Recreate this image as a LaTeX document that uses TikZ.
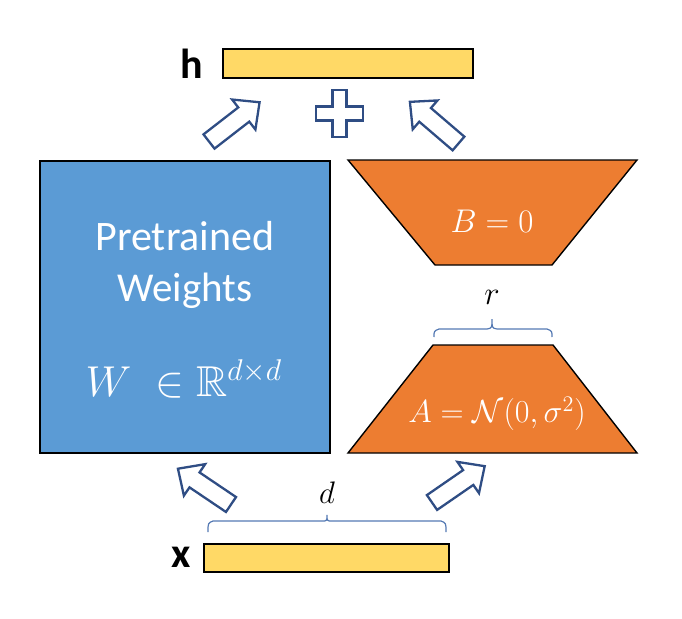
\documentclass[tikz,border=0pt]{standalone}
\usepackage{amsmath,amssymb}
\usepackage{fontspec}
\setmainfont{Carlito}
\definecolor{wblue}{HTML}{5B9BD5}
\definecolor{lorange}{HTML}{ED7D31}
\definecolor{barfill}{HTML}{FFD966}
\definecolor{arrowcol}{HTML}{2F4D84}
\definecolor{bracecol}{HTML}{5479B3}
\begin{document}
\begin{tikzpicture}[x=1pt,y=-1pt,
  bar/.style={draw=black, line width=1.4pt, fill=barfill, inner sep=0pt},
  shapeline/.style={draw=black, line width=1.4pt},
  arrowline/.style={draw=arrowcol, line width=2.3pt, fill=white, line join=miter},
  bracestyle/.style={draw=bracecol, line width=1.2pt},
  whitetext/.style={text=white, inner sep=0pt},
  mathlabel/.style={inner sep=0pt, font=\LARGE},
  blockarrow/.pic={\draw[arrowline] (0,-9) -- (44,-9) -- (44,-19) -- (64,0) -- (44,19) -- (44,9) -- (0,9) -- cycle;}
]
\useasboundingbox (0,0) rectangle (682,618);

% bars
\node[bar, minimum width=250pt, minimum height=29pt] (hbar) at (348,63.5) {};
\node[bar, minimum width=245pt, minimum height=28pt] (xbar) at (326.5,558) {};
\node[font=\fontsize{42}{42}\selectfont\bfseries, inner sep=0pt] (hlabel) at (192,64) {h};
\node[font=\fontsize{42}{42}\selectfont\bfseries, inner sep=0pt] (xlabel) at (181,557) {x};

% pretrained weights
\node[shapeline, fill=wblue, minimum width=290pt, minimum height=292pt, inner sep=0pt] (W) at (185,307) {};
\node[whitetext, font=\fontsize{42}{42}\selectfont] (pt) at (185,236) {Pretrained};
\node[whitetext, font=\fontsize{41}{41}\selectfont] (wt) at (185,291) {Weights};
\node[whitetext, mathlabel, scale=2.5] (wm) at (184,379) {$W\;\in\mathbb{R}^{d\times d}$};

% B trapezoid
\draw[shapeline, fill=lorange] (348,160) -- (637,160) -- (552,265) -- (435,265) -- cycle;
\node[whitetext, mathlabel, scale=1.9] (Btext) at (492,221) {$B=0$};

% A trapezoid
\draw[shapeline, fill=lorange] (433,345) -- (553,345) -- (637,453) -- (348,453) -- cycle;
\node[whitetext, mathlabel, scale=1.85] (Atext) at (497,414) {$A=\mathcal{N}(0,\sigma^2)$};

% r brace
\draw[bracestyle] (434,337) .. controls (434,331) .. (439,329) -- (487,329) .. controls (492,328) .. (492,319) .. controls (492,328) .. (497,329) -- (547,329) .. controls (552,331) .. (552,337);
\node[mathlabel, scale=1.9] (rlabel) at (492,297) {$r$};

% d brace
\draw[bracestyle] (208,532) .. controls (208,523) .. (213,521) -- (322,521) .. controls (327,521) .. (327,515) .. controls (327,521) .. (332,521) -- (441,521) .. controls (446,523) .. (446,532);
\node[mathlabel, scale=1.8] (dlabel) at (327,493) {$d$};

% plus
\draw[arrowline] (332.5,90) -- (346.5,90) -- (346.5,106.5) -- (363,106.5) -- (363,120.5) -- (346.5,120.5) -- (346.5,137) -- (332.5,137) -- (332.5,120.5) -- (316,120.5) -- (316,106.5) -- (332.5,106.5) -- cycle;

% block arrows
\pic[rotate=37.8] at (209,141.5) {blockarrow};
\pic[rotate=139.4] at (458.5,143.5) {blockarrow};
\pic[rotate=146] at (231,504.5) {blockarrow};
\pic[rotate=34.6] at (432,502.5) {blockarrow};
\end{tikzpicture}
\end{document}
